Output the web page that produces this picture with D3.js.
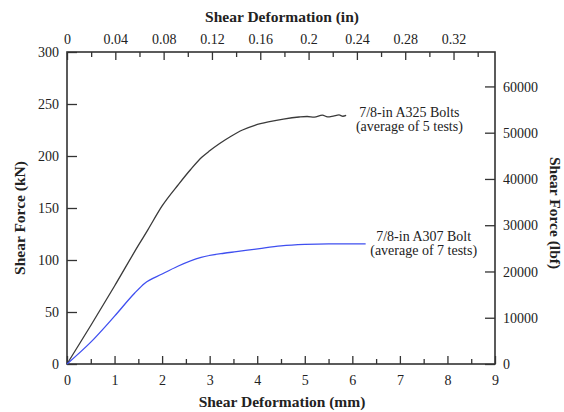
<!DOCTYPE html>
<html lang="en">
<head>
<meta charset="UTF-8">
<title>shear force vs deformation</title>
<script src="https://d3js.org/d3.v7.min.js"></script>
<style>
    body { margin: 0; background: #fff; }
    text { font-family: "Liberation Serif", "Times New Roman", serif; fill: #222; }
    .tick-label { font-size: 14px; }
    .title { font-size: 15.5px; font-weight: bold; }
    .note { font-size: 14px; }
</style>
</head>
<body>
<svg id="chart" width="564" height="412"></svg>
<script>
    // A325 bolts, average of 5 tests (mm, kN)
    let a325_mm = [0, 0.5, 1.0, 1.5, 1.7, 2.0, 2.35, 2.6, 2.84, 3.0, 3.21, 3.45, 3.69, 3.95, 4.26, 4.55, 4.88, 5.05, 5.2, 5.37, 5.48, 5.6, 5.72, 5.8, 5.87]
    let a325_kN = [0, 37, 75, 114, 129, 152, 173, 187, 199, 205, 212, 219, 225, 229.5, 233, 235.5, 237.5, 238, 237.3, 239.3, 237.6, 238.4, 239.5, 238.2, 239]
    // A307 bolt, average of 7 tests (mm, kN)
    let a307_mm = [0, 0.5, 1.0, 1.42, 1.63, 2.0, 2.33, 2.82, 3.3, 3.56, 4.05, 4.5, 5.0, 5.5, 6.0, 6.28]
    let a307_kN = [0, 21, 46, 68, 77.5, 86.5, 94, 102.5, 106.5, 108, 111, 113.5, 115, 115.6, 115.5, 115.5]

    let mm_ticks = [0, 1, 2, 3, 4, 5, 6, 7, 8, 9]
    let in_ticks = [0, 0.04, 0.08, 0.12, 0.16, 0.2, 0.24, 0.28, 0.32]
    let kN_ticks = [0, 50, 100, 150, 200, 250, 300]
    let lbf_ticks = [0, 10000, 20000, 30000, 40000, 50000, 60000]

    const KN_TO_LBF = 224.809
    const MM_PER_IN = 25.4

    let svg = d3.select("#chart")
    let m = {left: 67, right: 495, top: 52, bottom: 364}

    let x = d3.scaleLinear().domain([0, 9]).range([m.left, m.right])
    let xIn = d3.scaleLinear().domain([0, 9 / MM_PER_IN]).range([m.left, m.right])
    let y = d3.scaleLinear().domain([0, 300]).range([m.bottom, m.top])
    let yLbf = d3.scaleLinear().domain([0, 300 * KN_TO_LBF]).range([m.bottom, m.top])

    // bottom axis (mm), ticks pointing inside
    let gx = svg.append("g").attr("transform", "translate(0," + m.bottom + ")")
    gx.call(d3.axisBottom(x).tickValues(d3.range(0, 9.01, 0.5)).tickSize(-5).tickFormat(""))
    gx.selectAll(".tick line").filter(d => d % 1 === 0).attr("y2", -8)
    gx.selectAll(".tick text").remove()
    gx.selectAll(".tick").filter(d => mm_ticks.includes(d)).append("text")
        .attr("class", "tick-label").attr("y", 21).attr("text-anchor", "middle")
        .text(d => d)

    // top axis (in)
    let gt = svg.append("g").attr("transform", "translate(0," + m.top + ")")
    gt.call(d3.axisTop(xIn).tickValues(d3.range(0, 0.3501, 0.02)).tickSize(-5).tickFormat(""))
    gt.selectAll(".tick line").filter((d, i) => i % 2 === 0).attr("y2", 8)
    gt.selectAll(".tick text").remove()
    gt.selectAll(".tick").filter((d, i) => i % 2 === 0).append("text")
        .attr("class", "tick-label").attr("y", -8).attr("text-anchor", "middle")
        .text((d, i) => in_ticks[i])

    // left axis (kN)
    let gy = svg.append("g").attr("transform", "translate(" + m.left + ",0)")
    gy.call(d3.axisLeft(y).tickValues(kN_ticks).tickSize(-10).tickFormat(""))
    gy.selectAll(".tick text").remove()
    gy.selectAll(".tick").append("text")
        .attr("class", "tick-label").attr("x", -8).attr("dy", "0.33em").attr("text-anchor", "end")
        .text(d => d)

    // right axis (lbf)
    let gr = svg.append("g").attr("transform", "translate(" + m.right + ",0)")
    gr.call(d3.axisRight(yLbf).tickValues(lbf_ticks).tickSize(-10).tickFormat(""))
    gr.selectAll(".tick text").remove()
    gr.selectAll(".tick").append("text")
        .attr("class", "tick-label").attr("x", 8).attr("dy", "0.33em").attr("text-anchor", "start")
        .text(d => d)

    svg.selectAll(".domain").remove()
    svg.selectAll(".tick line").attr("stroke", "#333").attr("stroke-width", 1.3)

    // frame
    svg.append("rect")
        .attr("x", m.left).attr("y", m.top)
        .attr("width", m.right - m.left).attr("height", m.bottom - m.top)
        .attr("fill", "none").attr("stroke", "#333").attr("stroke-width", 1.6)

    // curves
    let line = d3.line().curve(d3.curveMonotoneX).x(d => x(d[0])).y(d => y(d[1]))
    svg.append("path")
        .datum(d3.zip(a325_mm, a325_kN))
        .attr("d", line).attr("fill", "none")
        .attr("stroke", "#3a3a3a").attr("stroke-width", 1.3)
    svg.append("path")
        .datum(d3.zip(a307_mm, a307_kN))
        .attr("d", line).attr("fill", "none")
        .attr("stroke", "#3f4ff0").attr("stroke-width", 1.3)

    // curve notes
    let notes = [
        {t: ["7/8-in A325 Bolts", "(average of 5 tests)"], xv: 7.2, yv: 242},
        {t: ["7/8-in A307 Bolt", "(average of 7 tests)"], xv: 7.5, yv: 123}
    ]
    notes.forEach(n => {
        let tx = svg.append("text").attr("class", "note").attr("text-anchor", "middle")
            .attr("transform", "translate(" + x(n.xv) + "," + (y(n.yv) + 5) + ")")
        n.t.forEach((s, i) => tx.append("tspan").attr("x", 0).attr("dy", i === 0 ? 0 : 14).text(s))
    })

    // axis titles
    svg.append("text").attr("class", "title").attr("text-anchor", "middle")
        .attr("x", 282).attr("y", 22).text("Shear Deformation (in)")
    svg.append("text").attr("class", "title").attr("text-anchor", "middle")
        .attr("x", 282).attr("y", 407).text("Shear Deformation (mm)")
    svg.append("text").attr("class", "title").attr("text-anchor", "middle")
        .attr("transform", "translate(25,218) rotate(-90)").text("Shear Force (kN)")
    svg.append("text").attr("class", "title").attr("text-anchor", "middle")
        .attr("transform", "translate(550,213) rotate(90)").text("Shear Force (lbf)")
</script>
</body>
</html>
